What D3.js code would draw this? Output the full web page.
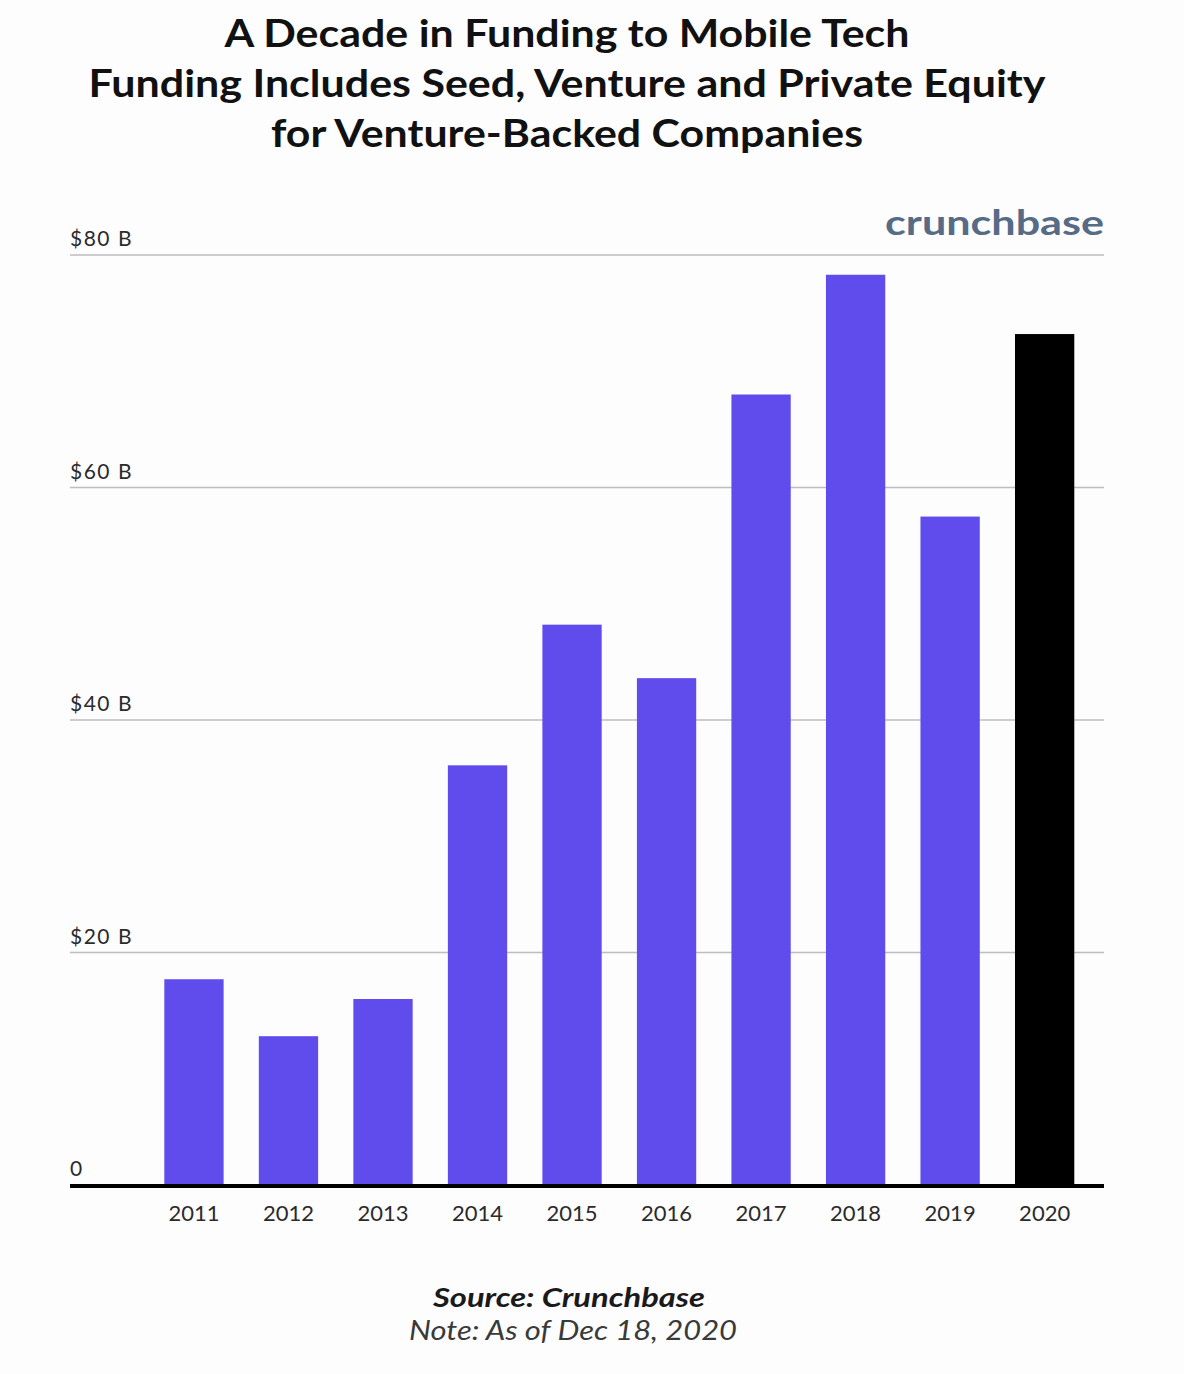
<!DOCTYPE html>
<html>
<head>
<meta charset="utf-8">
<script src="https://cdn.jsdelivr.net/npm/d3@7"></script>
<style>
  body { margin: 0; background: #fdfdfe; }
  svg { display: block; }
</style>
</head>
<body>
<div id="chart"></div>
<script>
// data, billions of USD
var years = ["2011", "2012", "2013", "2014", "2015", "2016", "2017", "2018", "2019", "2020"];
var funding = [17.7, 12.8, 16.0, 36.1, 48.2, 43.6, 68.0, 78.3, 57.5, 73.2];
var yTicks = [0, 20, 40, 60, 80];
var yTickLabels = ["0", "$20 B", "$40 B", "$60 B", "$80 B"];
var titleLines = [
    "A Decade in Funding to Mobile Tech",
    "Funding Includes Seed, Venture and Private Equity",
    "for Venture-Backed Companies"
];

var width = 1184,
    height = 1374;

var svg = d3.select("#chart").append("svg")
    .attr("width", width)
    .attr("height", height);

svg.append("rect")
    .attr("width", width)
    .attr("height", height)
    .attr("fill", "#fdfdfe");

// title
var titleWidths = [685, 957, 592];
svg.selectAll("text.title")
    .data(titleLines)
    .enter()
    .append("text")
    .attr("class", "title")
    .attr("x", 567)
    .attr("y", function(d, i) { return 47 + i * 50; })
    .attr("text-anchor", "middle")
    .attr("textLength", function(d, i) { return titleWidths[i]; })
    .attr("lengthAdjust", "spacingAndGlyphs")
    .style("font-family", "Lato, 'Open Sans', sans-serif")
    .style("font-weight", 700)
    .style("font-size", "38px")
    .style("fill", "#111")
    .text(function(d) { return d; });

var left = 70,
    right = 1104;

var x = d3.scaleBand()
    .domain(years)
    .range([146.7, 1091.9])
    .paddingInner(0.3726)
    .paddingOuter(0.1863);

var y = d3.scaleLinear()
    .domain([0, 80])
    .range([1185, 255]);

// gridlines
svg.selectAll("line.grid")
    .data(yTicks.filter(function(d) { return d > 0; }))
    .enter()
    .append("line")
    .attr("class", "grid")
    .attr("x1", left)
    .attr("x2", right)
    .attr("y1", function(d) { return y(d); })
    .attr("y2", function(d) { return y(d); })
    .style("stroke", "#bdbdc2")
    .style("stroke-width", 1.5);

// y tick labels above the lines
svg.selectAll("text.ylab")
    .data(yTicks)
    .enter()
    .append("text")
    .attr("class", "ylab")
    .attr("x", left)
    .attr("y", function(d) { return y(d) - 9; })
    .style("font-family", "Lato, sans-serif")
    .style("font-size", "21px")
    .style("letter-spacing", "1.5px")
    .style("fill", "#2b2b2b")
    .text(function(d, i) { return yTickLabels[i]; });

// bars
svg.selectAll("rect.bar")
    .data(funding)
    .enter()
    .append("rect")
    .attr("class", "bar")
    .attr("x", function(d, i) { return x(years[i]); })
    .attr("y", function(d) { return y(d); })
    .attr("width", x.bandwidth())
    .attr("height", function(d) { return y(0) - y(d); })
    .style("fill", function(d, i) { return years[i] === "2020" ? "#000000" : "#604bec"; });

// baseline
svg.append("line")
    .attr("x1", left)
    .attr("x2", right)
    .attr("y1", y(0) + 1)
    .attr("y2", y(0) + 1)
    .style("stroke", "#000")
    .style("stroke-width", 4);

// x axis labels
var xAxis = svg.append("g")
    .attr("transform", "translate(0," + (y(0) + 3) + ")")
    .call(d3.axisBottom(x).tickSize(0).tickPadding(17));
xAxis.select(".domain").remove();
xAxis.selectAll("text")
    .style("font-family", "Lato, sans-serif")
    .style("font-size", "22px")
    .style("fill", "#2b2b2b");

// logo text
svg.append("text")
    .attr("x", 1104)
    .attr("y", 235)
    .attr("text-anchor", "end")
    .attr("textLength", 219)
    .attr("lengthAdjust", "spacingAndGlyphs")
    .style("font-family", "Lato, sans-serif")
    .style("font-weight", 700)
    .style("font-size", "34px")
    .style("fill", "#566b85")
    .text("crunchbase");

// source / note
svg.append("text")
    .attr("x", 569)
    .attr("y", 1307)
    .attr("text-anchor", "middle")
    .attr("textLength", 272)
    .attr("lengthAdjust", "spacingAndGlyphs")
    .style("font-family", "Lato, sans-serif")
    .style("font-weight", 700)
    .style("font-style", "italic")
    .style("font-size", "27px")
    .style("fill", "#1a1a1a")
    .text("Source: Crunchbase");

svg.append("text")
    .attr("x", 573)
    .attr("y", 1340)
    .attr("text-anchor", "middle")
    .attr("textLength", 328)
    .attr("lengthAdjust", "spacingAndGlyphs")
    .style("font-family", "Lato, sans-serif")
    .style("font-style", "italic")
    .style("font-size", "27px")
    .style("fill", "#3a3a3a")
    .text("Note: As of Dec 18, 2020");
</script>
</body>
</html>
